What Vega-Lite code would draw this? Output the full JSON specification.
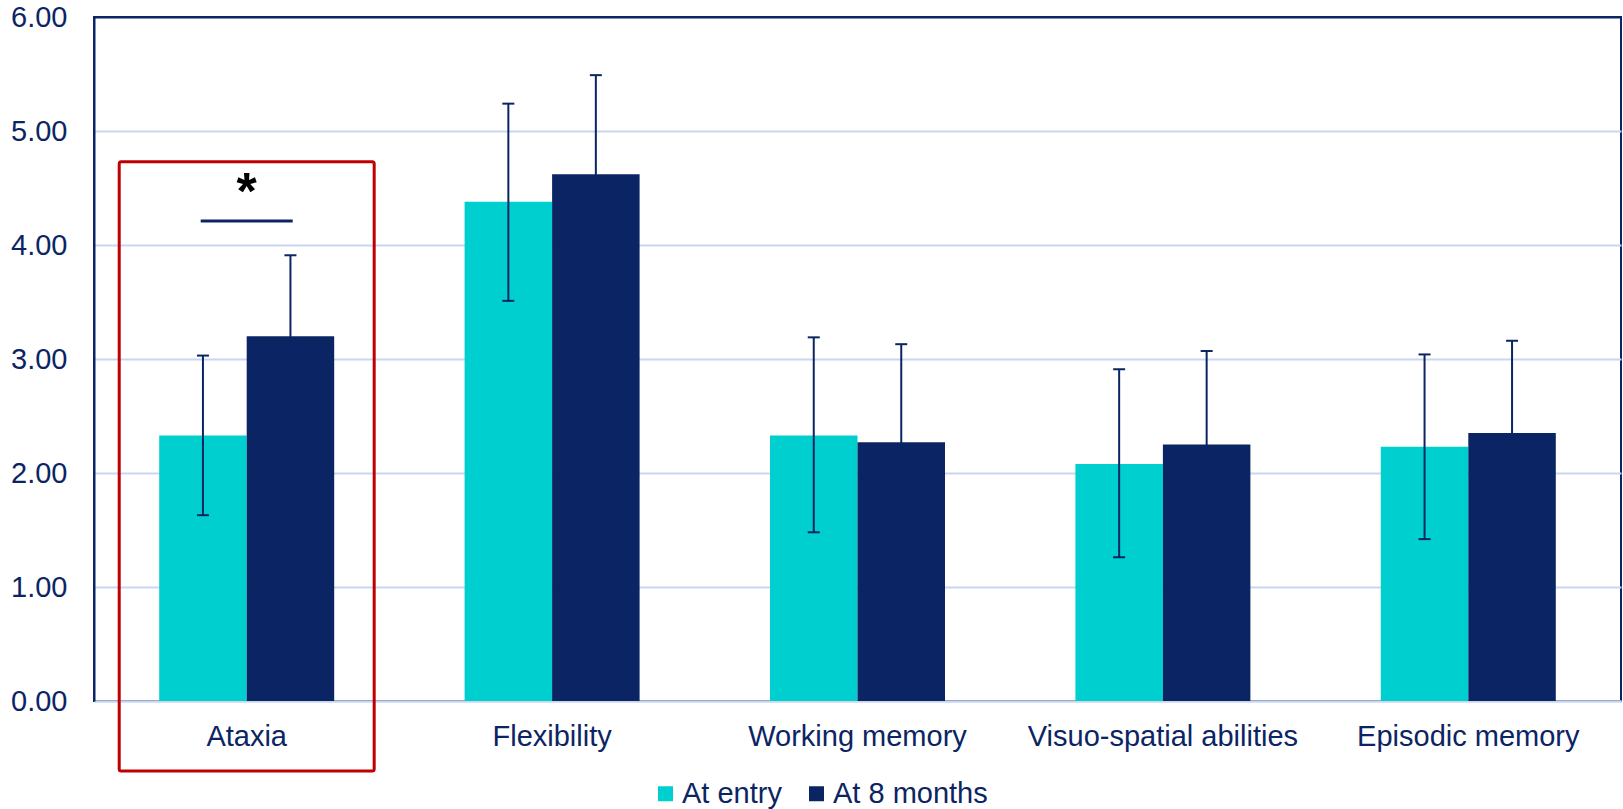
{
  "$schema": "https://vega.github.io/schema/vega-lite/v6.json",
  "autosize": "none",
  "width": 1527,
  "height": 684,
  "padding": {"left": 94, "top": 17, "right": 2, "bottom": 108},
  "config": {
    "font": "Liberation Sans",
    "view": {"stroke": "#0b2564", "strokeWidth": 2}
  },
  "datasets": {
    "bars": [
      {"cat": "Ataxia", "series": "At entry", "mean": 2.33, "low": 1.63, "high": 3.03},
      {"cat": "Ataxia", "series": "At 8 months", "mean": 3.20, "low": 2.49, "high": 3.91},
      {"cat": "Flexibility", "series": "At entry", "mean": 4.38, "low": 3.51, "high": 5.24},
      {"cat": "Flexibility", "series": "At 8 months", "mean": 4.62, "low": 3.74, "high": 5.49},
      {"cat": "Working memory", "series": "At entry", "mean": 2.33, "low": 1.48, "high": 3.19},
      {"cat": "Working memory", "series": "At 8 months", "mean": 2.27, "low": 1.40, "high": 3.13},
      {"cat": "Visuo-spatial abilities", "series": "At entry", "mean": 2.08, "low": 1.26, "high": 2.91},
      {"cat": "Visuo-spatial abilities", "series": "At 8 months", "mean": 2.25, "low": 1.41, "high": 3.07},
      {"cat": "Episodic memory", "series": "At entry", "mean": 2.23, "low": 1.42, "high": 3.04},
      {"cat": "Episodic memory", "series": "At 8 months", "mean": 2.35, "low": 1.53, "high": 3.16}
    ],
    "box": [{"cat": "Ataxia", "bottom": -0.614, "top": 4.73}],
    "sig": [{"cat": "Ataxia", "line": 4.21, "star": 4.32, "label": "*"}]
  },
  "encoding": {
    "x": {
      "field": "cat",
      "type": "nominal",
      "sort": ["Ataxia", "Flexibility", "Working memory", "Visuo-spatial abilities", "Episodic memory"],
      "scale": {"paddingInner": 0.427, "paddingOuter": 0.2135},
      "axis": {
        "title": null,
        "labelAngle": 0,
        "labelLimit": 0,
        "ticks": false,
        "domainColor": "#c9d6f2",
        "domainWidth": 2,
        "labelFontSize": 29,
        "labelColor": "#0b2564",
        "labelPadding": 21
      }
    }
  },
  "layer": [
    {
      "data": {"name": "box"},
      "mark": {"type": "bar", "filled": false, "stroke": "#c00000", "strokeWidth": 3, "cornerRadius": 2, "width": {"band": 1.457}, "clip": false},
      "encoding": {
        "y": {"field": "bottom", "type": "quantitative"},
        "y2": {"field": "top"}
      }
    },
    {
      "data": {"name": "bars"},
      "mark": {"type": "bar"},
      "encoding": {
        "xOffset": {"field": "series", "type": "nominal", "sort": ["At entry", "At 8 months"], "scale": {"paddingInner": 0, "paddingOuter": 0}},
        "y": {
          "field": "mean",
          "type": "quantitative",
          "scale": {"domain": [0, 6], "nice": false},
          "axis": {
            "title": null,
            "values": [0, 1, 2, 3, 4, 5, 6],
            "format": ".2f",
            "ticks": false,
            "labelFontSize": 29,
            "labelColor": "#0b2564",
            "labelPadding": 27,
            "domainColor": "#0b2564",
            "domainWidth": 2,
            "gridColor": {"condition": {"test": "datum.value == 6", "value": "#0b2564"}, "value": "#c9d6f2"},
            "gridWidth": 2
          }
        },
        "color": {
          "field": "series",
          "type": "nominal",
          "sort": ["At entry", "At 8 months"],
          "scale": {"domain": ["At entry", "At 8 months"], "range": ["#00cfcf", "#0b2564"]},
          "legend": {
            "title": null,
            "orient": "none",
            "direction": "horizontal",
            "legendX": 557,
            "legendY": 762,
            "symbolType": "square",
            "symbolSize": 225,
            "symbolStrokeWidth": 0,
            "labelFontSize": 29,
            "labelColor": "#0b2564",
            "labelOffset": 2,
            "columnPadding": 20
          }
        }
      }
    },
    {
      "data": {"name": "bars"},
      "mark": {"type": "rule", "color": "#0b2564", "strokeWidth": 2},
      "encoding": {
        "xOffset": {"field": "series", "type": "nominal", "sort": ["At entry", "At 8 months"]},
        "y": {"field": "low", "type": "quantitative"},
        "y2": {"field": "high"}
      }
    },
    {
      "data": {"name": "bars"},
      "mark": {"type": "tick", "color": "#0b2564", "size": 12, "thickness": 2, "opacity": 1},
      "encoding": {
        "xOffset": {"field": "series", "type": "nominal", "sort": ["At entry", "At 8 months"]},
        "y": {"field": "low", "type": "quantitative"}
      }
    },
    {
      "data": {"name": "bars"},
      "mark": {"type": "tick", "color": "#0b2564", "size": 12, "thickness": 2, "opacity": 1},
      "encoding": {
        "xOffset": {"field": "series", "type": "nominal", "sort": ["At entry", "At 8 months"]},
        "y": {"field": "high", "type": "quantitative"}
      }
    },
    {
      "data": {"name": "sig"},
      "mark": {"type": "tick", "color": "#0b2564", "size": 92, "thickness": 3, "opacity": 1},
      "encoding": {
        "y": {"field": "line", "type": "quantitative"}
      }
    },
    {
      "data": {"name": "sig"},
      "mark": {"type": "text", "fontSize": 52, "fontWeight": "bold", "color": "#000000", "baseline": "alphabetic", "align": "center"},
      "encoding": {
        "y": {"field": "star", "type": "quantitative"},
        "text": {"field": "label"}
      }
    }
  ]
}
